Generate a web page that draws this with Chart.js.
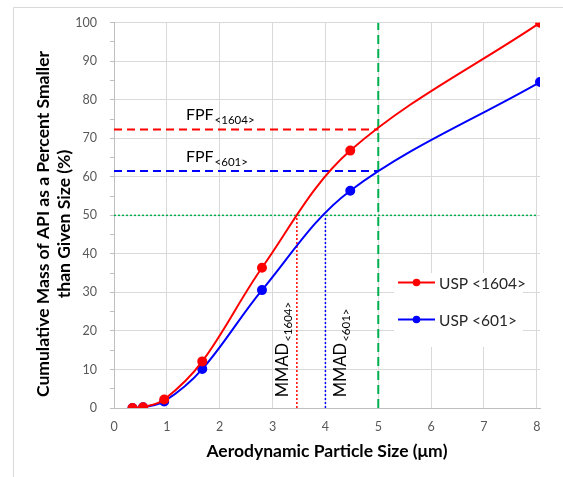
<!DOCTYPE html>
<html>
<head>
<meta charset="utf-8">
<script src="https://cdn.jsdelivr.net/npm/chart.js@4.4.0/dist/chart.umd.min.js"></script>
<style>
  html, body { margin: 0; padding: 0; background: #fff; }
  #wrap { width: 563px; height: 477px; }
</style>
</head>
<body>
<div id="wrap"><canvas id="chart" width="563" height="477"></canvas></div>
<script>
// Cascade stage sizes (um) and cumulative % smaller than size
const sizes = [0.35, 0.55, 0.95, 1.67, 2.8, 4.47, 8.06];
const usp1604 = [0, 0.2, 2.2, 12.1, 36.4, 66.8, 100];
const usp601 = [0, 0.2, 1.7, 10.1, 30.6, 56.4, 84.6];
const seriesNames = ['USP <1604>', 'USP <601>'];

const xTicks = [0, 1, 2, 3, 4, 5, 6, 7, 8];
const yTicks = [0, 10, 20, 30, 40, 50, 60, 70, 80, 90, 100];

// Reference values
const fpf1604 = 72.3;
const fpf601 = 61.5;
const mmad1604 = 3.46;
const mmad601 = 4.0;
const cutoffSize = 5;
const halfMass = 50;

const yTitle = ['Cumulative Mass of API as a Percent Smaller', 'than Given Size (%)'];

const FONT = 'Lato, "Open Sans", sans-serif';
const RED = '#ff0000';
const BLUE = '#0000ff';
const GREEN = '#00b050';

function toPoints(xs, ys) {
    return xs.map((x, i) => ({ x: x, y: ys[i] }));
}

function refLine(points, color, dash, width) {
    return {
        data: points,
        borderColor: color,
        borderWidth: width,
        borderDash: dash,
        pointRadius: 0,
        tension: 0,
        fill: false
    };
}

// Frame, axis title, annotation labels and the in-plot legend
const extrasPlugin = {
    id: 'extras',
    beforeDraw(chart) {
        const ctx = chart.ctx;
        ctx.save();
        ctx.strokeStyle = '#d9d9d9';
        ctx.lineWidth = 1;
        ctx.beginPath();
        ctx.moveTo(13.5, chart.height);
        ctx.lineTo(13.5, 7.5);
        ctx.lineTo(chart.width, 7.5);
        ctx.stroke();

        // y axis title, two lines
        ctx.fillStyle = '#000';
        ctx.font = 'bold 17.5px ' + FONT;
        ctx.textAlign = 'center';
        ctx.textBaseline = 'middle';
        ctx.translate(43, 224);
        ctx.rotate(-Math.PI / 2);
        ctx.fillText(yTitle[0], 0, 0);
        ctx.fillText(yTitle[1], 0, 21);
        ctx.restore();
    },
    afterDatasetsDraw(chart) {
        const ctx = chart.ctx;
        const xs = chart.scales.x;
        const ys = chart.scales.y;
        ctx.save();
        ctx.fillStyle = '#000';
        ctx.textBaseline = 'alphabetic';

        // FPF labels above the dashed lines
        const fpfLabels = [[fpf1604, '<1604>'], [fpf601, '<601>']];
        fpfLabels.forEach(([val, sub]) => {
            const x = xs.getPixelForValue(1.36);
            const y = ys.getPixelForValue(val) - 9;
            ctx.font = '16px ' + FONT;
            ctx.textAlign = 'left';
            ctx.fillText('FPF', x, y);
            const w = ctx.measureText('FPF').width;
            ctx.font = '11.5px ' + FONT;
            ctx.fillText(sub, x + w + 1, y + 4);
        });

        // MMAD labels, rotated
        const mmadLabels = [[mmad1604, -9, '<1604>'], [mmad601, 21, '<601>']];
        mmadLabels.forEach(([val, dx, sub]) => {
            const x = xs.getPixelForValue(val) + dx;
            const y = ys.getPixelForValue(2.8);
            ctx.save();
            ctx.translate(x, y);
            ctx.rotate(-Math.PI / 2);
            ctx.font = '16.5px ' + FONT;
            ctx.textAlign = 'left';
            ctx.fillText('MMAD', 0, 0);
            const w = ctx.measureText('MMAD').width;
            ctx.font = '11.5px ' + FONT;
            ctx.fillText(sub, w + 1, 4);
            ctx.restore();
        });

        // Legend box inside the plot
        const left = 394, top = 273, right = 523, bottom = 347;
        ctx.fillStyle = '#fff';
        ctx.fillRect(left, top, right - left, bottom - top);
        const rows = [282.5, 319.5];
        chart.data.datasets.slice(0, 2).forEach((ds, i) => {
            const y = rows[i];
            ctx.strokeStyle = ds.borderColor;
            ctx.lineWidth = 2;
            ctx.beginPath();
            ctx.moveTo(398, y);
            ctx.lineTo(435, y);
            ctx.stroke();
            ctx.fillStyle = ds.pointBackgroundColor;
            ctx.beginPath();
            ctx.arc(416.5, y, 3.8, 0, Math.PI * 2);
            ctx.fill();
            ctx.fillStyle = '#262626';
            ctx.font = '15.5px ' + FONT;
            ctx.textAlign = 'left';
            ctx.textBaseline = 'middle';
            ctx.fillText(ds.label, 439, y + 1);
        });
        ctx.restore();
    }
};

const curveStyle = (label, ys, color) => ({
    label: label,
    data: toPoints(sizes, ys),
    borderColor: color,
    backgroundColor: color,
    pointBackgroundColor: color,
    pointBorderColor: color,
    pointRadius: 4,
    pointHoverRadius: 4,
    borderWidth: 2,
    tension: 0.35,
    fill: false
});

new Chart(document.getElementById('chart'), {
    type: 'line',
    data: {
        datasets: [
            curveStyle(seriesNames[0], usp1604, RED),
            curveStyle(seriesNames[1], usp601, BLUE),
            refLine([{ x: 0, y: fpf1604 }, { x: cutoffSize, y: fpf1604 }], RED, [8, 5], 2),
            refLine([{ x: 0, y: fpf601 }, { x: cutoffSize, y: fpf601 }], BLUE, [8, 5], 2),
            refLine([{ x: 0, y: halfMass }, { x: 8, y: halfMass }], GREEN, [2, 2], 1.5),
            refLine([{ x: cutoffSize, y: 0 }, { x: cutoffSize, y: 100 }], GREEN, [9, 5], 2),
            refLine([{ x: mmad1604, y: 0 }, { x: mmad1604, y: halfMass }], RED, [2, 2], 1.5),
            refLine([{ x: mmad601, y: 0 }, { x: mmad601, y: halfMass }], BLUE, [2, 2], 1.5)
        ]
    },
    options: {
        responsive: false,
        animation: false,
        devicePixelRatio: 1,
        layout: { padding: { left: 14, top: 22.7, right: 23, bottom: 0 } },
        plugins: {
            legend: { display: false },
            tooltip: { enabled: false }
        },
        scales: {
            x: {
                type: 'linear',
                min: 0,
                max: 8.06,
                afterBuildTicks: (scale) => {
                    scale.ticks = xTicks.map(v => ({ value: v }));
                },
                afterFit: (scale) => { scale.height = 69; },
                ticks: {
                    color: '#595959',
                    font: { family: FONT, size: 12.5 },
                    padding: 11,
                    maxRotation: 0
                },
                grid: {
                    color: '#d9d9d9',
                    drawTicks: false
                },
                border: { color: '#bfbfbf' },
                title: {
                    display: true,
                    text: 'Aerodynamic Particle Size (\u03bcm)',
                    color: '#000',
                    font: { family: FONT, size: 17.5, weight: 'bold', lineHeight: 1.2 },
                    padding: { top: 0, bottom: 15.5 }
                }
            },
            y: {
                type: 'linear',
                min: 0,
                max: 100,
                afterFit: (scale) => { scale.width = 100; },
                ticks: {
                    stepSize: 5,
                    color: '#595959',
                    font: { family: FONT, size: 12.5 },
                    padding: 13,
                    callback: (v) => (yTicks.includes(v) ? String(v) : '')
                },
                grid: {
                    color: (c) => (c.tick && c.tick.value % 10 === 0 ? '#d9d9d9' : 'rgba(0,0,0,0)'),
                    tickColor: '#bfbfbf',
                    tickLength: 4
                },
                border: { color: '#bfbfbf' }
            }
        }
    },
    plugins: [extrasPlugin]
});
</script>
</body>
</html>
